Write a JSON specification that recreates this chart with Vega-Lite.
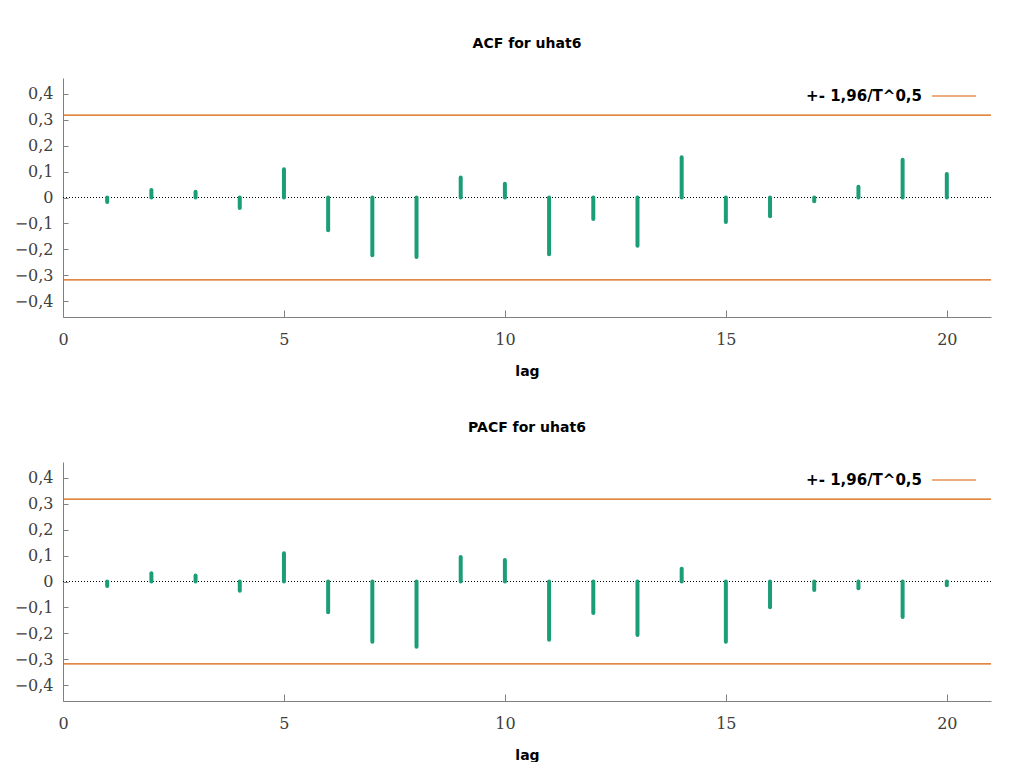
{
  "$schema": "https://vega.github.io/schema/vega-lite/v6.json",
  "background": "white",
  "padding": {"left": 13, "top": 37, "right": 0, "bottom": 0},
  "datasets": {
    "acf": [
      {"lag": 1, "value": -0.017}, {"lag": 2, "value": 0.029}, {"lag": 3, "value": 0.022}, {"lag": 4, "value": -0.040},
      {"lag": 5, "value": 0.109}, {"lag": 6, "value": -0.126}, {"lag": 7, "value": -0.222}, {"lag": 8, "value": -0.229},
      {"lag": 9, "value": 0.077}, {"lag": 10, "value": 0.053}, {"lag": 11, "value": -0.218}, {"lag": 12, "value": -0.083},
      {"lag": 13, "value": -0.186}, {"lag": 14, "value": 0.155}, {"lag": 15, "value": -0.094}, {"lag": 16, "value": -0.072},
      {"lag": 17, "value": -0.014}, {"lag": 18, "value": 0.041}, {"lag": 19, "value": 0.145}, {"lag": 20, "value": 0.090}
    ],
    "pacf": [
      {"lag": 1, "value": -0.017}, {"lag": 2, "value": 0.032}, {"lag": 3, "value": 0.023}, {"lag": 4, "value": -0.036},
      {"lag": 5, "value": 0.109}, {"lag": 6, "value": -0.118}, {"lag": 7, "value": -0.232}, {"lag": 8, "value": -0.251},
      {"lag": 9, "value": 0.094}, {"lag": 10, "value": 0.083}, {"lag": 11, "value": -0.224}, {"lag": 12, "value": -0.121},
      {"lag": 13, "value": -0.206}, {"lag": 14, "value": 0.049}, {"lag": 15, "value": -0.232}, {"lag": 16, "value": -0.099},
      {"lag": 17, "value": -0.033}, {"lag": 18, "value": -0.026}, {"lag": 19, "value": -0.137}, {"lag": 20, "value": -0.014}
    ],
    "band": [
      {"series": "+- 1,96/T^0,5", "bound": 0.317},
      {"series": "+- 1,96/T^0,5", "bound": -0.317}
    ],
    "zero": [{"z": 0}]
  },
  "config": {
    "view": {"stroke": null},
    "title": {"font": "DejaVu Sans", "fontSize": 14, "fontWeight": "bold", "color": "black", "baseline": "alphabetic", "offset": 22, "anchor": "middle"},
    "axis": {
      "domainColor": "#808080", "tickColor": "#808080", "grid": false, "labelOverlap": false,
      "labelFont": "DejaVu Serif", "labelFontSize": 16, "labelColor": "#404040",
      "titleFont": "DejaVu Sans", "titleFontSize": 14, "titleFontWeight": "bold", "titleColor": "black"
    }
  },
  "spacing": 43,
  "resolve": {"scale": {"color": "independent"}, "legend": {"color": "independent"}},
  "vconcat": [
    {
      "title": "ACF for uhat6",
      "width": 928,
      "height": 239,
      "resolve": {"axis": {"x": "independent", "y": "independent"}},
      "layer": [
        {
          "data": {"name": "zero"},
          "mark": {"type": "rule", "color": "black", "strokeWidth": 1, "strokeDash": [1, 2]},
          "encoding": {
            "x": {"datum": 0, "type": "quantitative", "scale": {"domain": [0, 21], "nice": false, "zero": false},
              "axis": {"orient": "top", "offset": -239, "values": [0, 5, 10, 15, 20], "labels": false, "domain": false, "tickSize": 7, "title": null}},
            "x2": {"datum": 21},
            "y": {"field": "z", "type": "quantitative", "scale": {"domain": [-0.46, 0.46], "nice": false, "zero": false},
              "axis": {"orient": "right", "offset": -928, "values": [-0.4, -0.3, -0.2, -0.1, 0, 0.1, 0.2, 0.3, 0.4], "labels": false, "domain": false, "tickSize": 5, "title": null}}
          }
        },
        {
          "data": {"name": "band"},
          "mark": {"type": "rule", "strokeWidth": 1.2},
          "encoding": {
            "y": {"field": "bound", "type": "quantitative", "axis": null},
            "color": {"field": "series", "type": "nominal", "scale": {"range": ["#d95f02"]},
              "legend": {"orient": "none", "legendX": 868, "legendY": -5, "title": null, "padding": 0,
                "labelFont": "DejaVu Sans", "labelFontSize": 15, "labelFontWeight": "bold", "labelColor": "black",
                "labelAlign": "right", "labelOffset": -55, "symbolType": "stroke", "symbolSize": 1936,
                "symbolStrokeWidth": 1.2, "symbolStrokeColor": "#d95f02"}}
          }
        },
        {
          "data": {"name": "acf"},
          "mark": {"type": "rule", "color": "#1b9e77", "strokeWidth": 4, "strokeCap": "round"},
          "encoding": {
            "x": {"field": "lag", "type": "quantitative",
              "axis": {"orient": "bottom", "values": [0, 5, 10, 15, 20], "ticks": false, "labelPadding": 14, "labelFlush": false, "title": "lag", "titlePadding": 17}},
            "y": {"field": "value", "type": "quantitative",
              "axis": {"orient": "left", "values": [-0.4, -0.3, -0.2, -0.1, 0, 0.1, 0.2, 0.3, 0.4], "ticks": false, "labelPadding": 10, "title": null,
                "minExtent": 50, "maxExtent": 50,
                "labelExpr": "datum.value == 0 ? '0' : replace(format(datum.value, '.1f'), '.', ',')"}},
            "y2": {"datum": 0}
          }
        }
      ]
    },
    {
      "title": "PACF for uhat6",
      "width": 928,
      "height": 239,
      "resolve": {"axis": {"x": "independent", "y": "independent"}},
      "layer": [
        {
          "data": {"name": "zero"},
          "mark": {"type": "rule", "color": "black", "strokeWidth": 1, "strokeDash": [1, 2]},
          "encoding": {
            "x": {"datum": 0, "type": "quantitative", "scale": {"domain": [0, 21], "nice": false, "zero": false},
              "axis": {"orient": "top", "offset": -239, "values": [0, 5, 10, 15, 20], "labels": false, "domain": false, "tickSize": 7, "title": null}},
            "x2": {"datum": 21},
            "y": {"field": "z", "type": "quantitative", "scale": {"domain": [-0.46, 0.46], "nice": false, "zero": false},
              "axis": {"orient": "right", "offset": -928, "values": [-0.4, -0.3, -0.2, -0.1, 0, 0.1, 0.2, 0.3, 0.4], "labels": false, "domain": false, "tickSize": 5, "title": null}}
          }
        },
        {
          "data": {"name": "band"},
          "mark": {"type": "rule", "strokeWidth": 1.2},
          "encoding": {
            "y": {"field": "bound", "type": "quantitative", "axis": null},
            "color": {"field": "series", "type": "nominal", "scale": {"range": ["#d95f02"]},
              "legend": {"orient": "none", "legendX": 868, "legendY": -5, "title": null, "padding": 0,
                "labelFont": "DejaVu Sans", "labelFontSize": 15, "labelFontWeight": "bold", "labelColor": "black",
                "labelAlign": "right", "labelOffset": -55, "symbolType": "stroke", "symbolSize": 1936,
                "symbolStrokeWidth": 1.2, "symbolStrokeColor": "#d95f02"}}
          }
        },
        {
          "data": {"name": "pacf"},
          "mark": {"type": "rule", "color": "#1b9e77", "strokeWidth": 4, "strokeCap": "round"},
          "encoding": {
            "x": {"field": "lag", "type": "quantitative",
              "axis": {"orient": "bottom", "values": [0, 5, 10, 15, 20], "ticks": false, "labelPadding": 14, "labelFlush": false, "title": "lag", "titlePadding": 17}},
            "y": {"field": "value", "type": "quantitative",
              "axis": {"orient": "left", "values": [-0.4, -0.3, -0.2, -0.1, 0, 0.1, 0.2, 0.3, 0.4], "ticks": false, "labelPadding": 10, "title": null,
                "minExtent": 50, "maxExtent": 50,
                "labelExpr": "datum.value == 0 ? '0' : replace(format(datum.value, '.1f'), '.', ',')"}},
            "y2": {"datum": 0}
          }
        }
      ]
    }
  ]
}
